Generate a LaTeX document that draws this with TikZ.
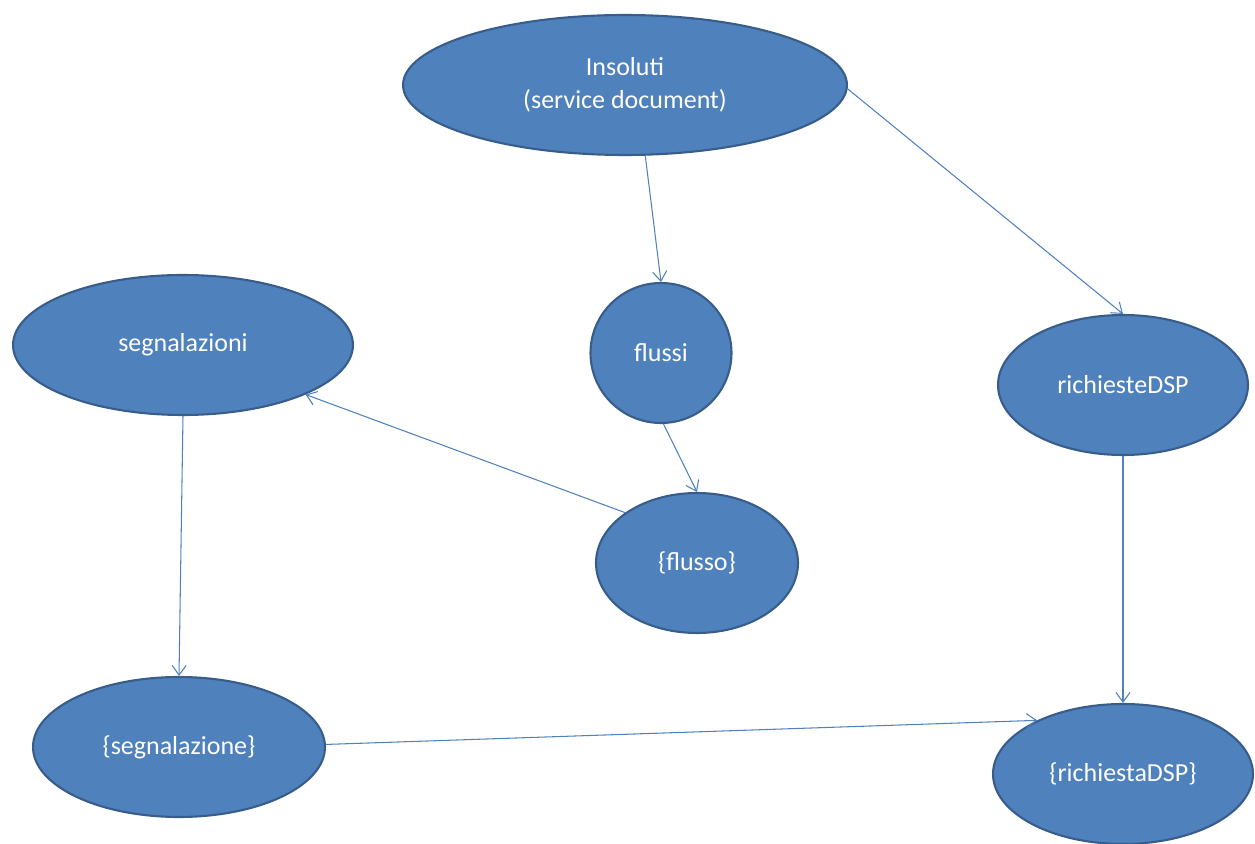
\documentclass[tikz,border=0pt]{standalone}
\usepackage{fontspec}
\setmainfont{Carlito}
\usetikzlibrary{shapes.geometric,arrows.meta}
\definecolor{nodefill}{HTML}{4F81BD}
\definecolor{nodeline}{HTML}{385D8A}
\begin{document}
\begin{tikzpicture}[x=0.02cm,y=-0.02cm,
    blob/.style={ellipse,draw=nodeline,line width=1.2pt,fill=nodefill,text=white,
        inner sep=0pt,minimum height=2.8cm,align=center,
        font=\fontsize{14.8}{18.5}\selectfont},
    link/.style={draw=nodefill,line width=0.6pt,-{Straight Barb[length=5.5pt,width=8pt]}}]
\useasboundingbox (0,0) rectangle (1255,844);
% nodes
\node[blob,minimum width=8.88cm] (insoluti) at (625,85) {Insoluti\\(service document)};
\node[blob,minimum width=2.82cm] (flussi) at (661,353) {flussi};
\node[blob,minimum width=6.8cm] (segnalazioni) at (183,345) {segnalazioni};
\node[blob,minimum width=5cm] (richieste) at (1123,385) {richiesteDSP};
\node[blob,minimum width=4.04cm] (flusso) at (697,563) {\{flusso\}};
\node[blob,minimum width=5.84cm] (segnalazione) at (179,747) {\{segnalazione\}};
\node[blob,minimum width=5.2cm] (richiesta) at (1123,774) {\{richiestaDSP\}};
% links
\draw[link] (insoluti.-74) -- (flussi.north);
\draw[link] (insoluti.-1) -- (richieste.north);
\draw[link] (flussi.-88) -- (flusso.north);
\draw[link] (flusso.145) -- (segnalazioni.-22);
\draw[link] (segnalazioni.south) -- (segnalazione.north);
\draw[link] (richieste.south) -- (richiesta.north);
\draw[link] (segnalazione.1) -- (richiesta.148);
\end{tikzpicture}
\end{document}
